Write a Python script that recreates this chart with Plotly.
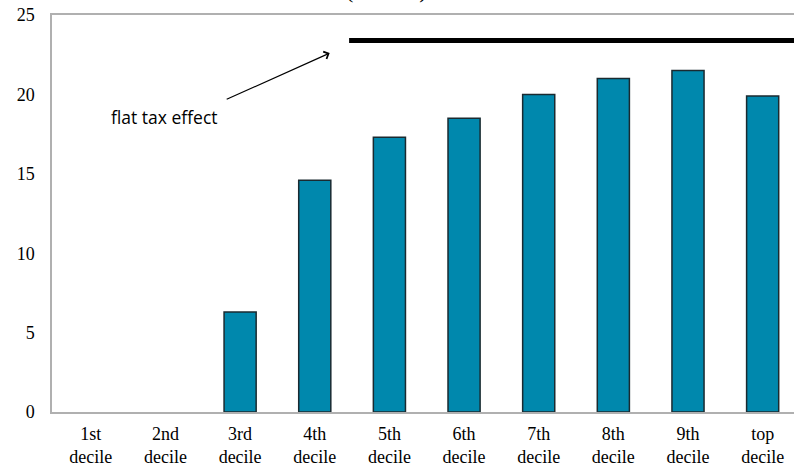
import plotly.graph_objects as go

categories = ["1st<br>decile", "2nd<br>decile", "3rd<br>decile", "4th<br>decile", "5th<br>decile",
              "6th<br>decile", "7th<br>decile", "8th<br>decile", "9th<br>decile", "top<br>decile"]
values = [0, 0, 6.3, 14.6, 17.3, 18.5, 20.0, 21.0, 21.5, 19.9]
flat_tax_level = 23.4
flat_tax_start = 3.46
y_ticks = [0, 5, 10, 15, 20, 25]

fig = go.Figure()
fig.add_trace(go.Bar(
    x=list(range(len(categories))), y=values, width=0.43,
    marker=dict(color="#0088AD",
                line=dict(color="#1a2a30", width=[1.5 if v > 0 else 0 for v in values])),
    showlegend=False, hoverinfo="skip",
))
fig.add_trace(go.Scatter(
    x=[flat_tax_start, 10], y=[flat_tax_level, flat_tax_level], mode="lines",
    line=dict(color="black", width=5), showlegend=False, hoverinfo="skip",
))

fig.add_annotation(
    x=3.2, y=22.6, ax=1.8, ay=19.65, xref="x", yref="y", axref="x", ayref="y",
    text="", showarrow=True, arrowhead=4, arrowsize=1.3, arrowwidth=1.2, arrowcolor="black",
)
fig.add_annotation(
    x=0.24, y=18.6, xref="x", yref="y", text="flat tax effect", showarrow=False,
    xanchor="left", font=dict(family="Open Sans, sans-serif", size=17.5, color="black"),
)
fig.add_annotation(
    xref="paper", yref="paper", x=(386 - 52) / 742, y=1 + 10 / 397, yanchor="bottom",
    text="(Percent)", showarrow=False,
    font=dict(family="Liberation Serif, serif", size=22, color="black"),
)

fig.update_layout(
    width=794, height=471,
    margin=dict(l=52, r=0, t=15, b=59),
    paper_bgcolor="white", plot_bgcolor="white",
    font=dict(family="Liberation Serif, Times New Roman, serif", size=18, color="black"),
)
fig.update_xaxes(
    range=[-0.52, 9.42], tickmode="array", tickvals=list(range(len(categories))), ticktext=categories,
    showline=True, linecolor="#b0b0b0", linewidth=2, mirror=True, showgrid=False, ticks="",
    zeroline=False, ticklabelstandoff=4,
)
fig.update_yaxes(
    range=[0, 25], tickvals=y_ticks, showline=True, linecolor="#b0b0b0", linewidth=1.5,
    mirror=False, showgrid=False, ticks="", zeroline=False, ticklabelstandoff=12,
)
fig.write_html("out.html", config={"displayModeBar": False},
               post_script="document.body.style.margin='0';document.body.style.overflow='hidden';")
